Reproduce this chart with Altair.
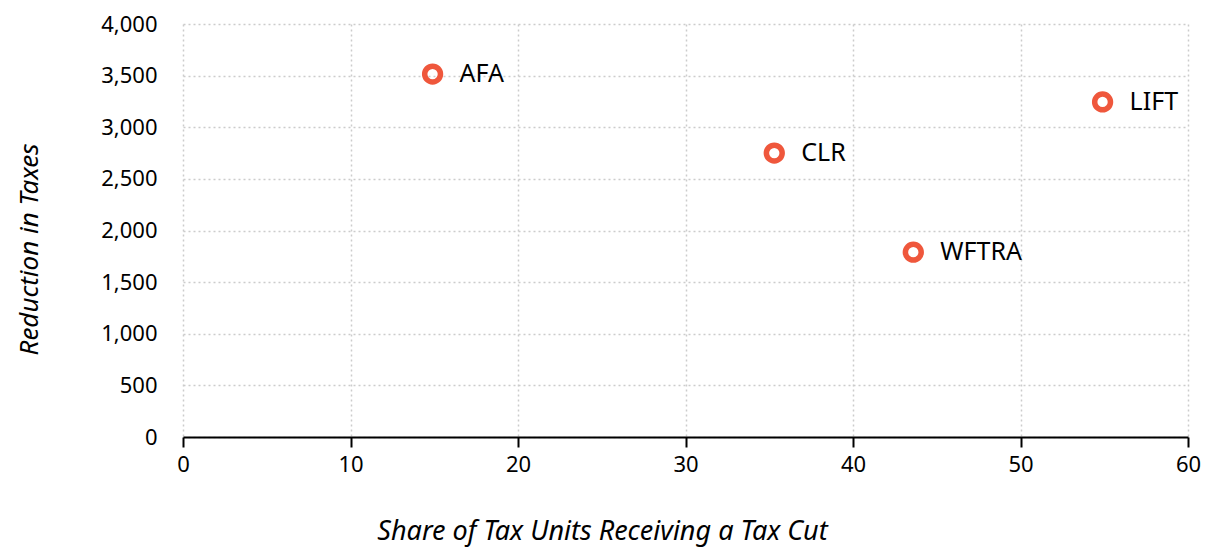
import altair as alt
import pandas as pd

plans = ["AFA", "CLR", "WFTRA", "LIFT"]
share = [14.9, 35.3, 43.6, 54.9]
reduction = [3515, 2750, 1790, 3245]

df = pd.DataFrame({"plan": plans, "share": share, "reduction": reduction})

FONT = "Noto Sans"
RED = "#EF573C"

base = alt.Chart(df).encode(
    x=alt.X("share:Q",
            scale=alt.Scale(domain=[0, 60], nice=False),
            axis=alt.Axis(values=[0, 10, 20, 30, 40, 50, 60],
                          title="Share of Tax Units Receiving a Tax Cut",
                          titleFontStyle="italic", titleFontWeight="normal",
                          titleFontSize=27, titleFont=FONT, titleColor="#000",
                          titlePadding=43, titleX=419,
                          labelFont=FONT, labelFontSize=22, labelColor="#000",
                          labelPadding=7, labelFlush=False,
                          domainColor="#000", domainWidth=2,
                          tickColor="#000", tickWidth=2, tickSize=10,
                          grid=True, gridColor="#cccccc", gridDash=[2, 3], gridWidth=1.5)),
    y=alt.Y("reduction:Q",
            scale=alt.Scale(domain=[0, 4000], nice=False),
            axis=alt.Axis(values=list(range(0, 4001, 500)), format=",.0f",
                          title="Reduction in Taxes",
                          titleFontStyle="italic", titleFontWeight="normal",
                          titleFontSize=26, titleFont=FONT, titleColor="#000",
                          titlePadding=58, titleY=225,
                          labelFont=FONT, labelFontSize=22, labelColor="#000",
                          labelPadding=26, labelFlush=False,
                          domain=False, ticks=False,
                          grid=True, gridColor="#cccccc", gridDash=[2, 3], gridWidth=1.5)),
)

points = base.mark_point(shape="circle", size=250, strokeWidth=5.5, color=RED, filled=False, opacity=1)
labels = base.mark_text(align="left", baseline="middle", dx=27, fontSize=25, font=FONT, color="#000").encode(text="plan:N")

chart = (points + labels).properties(
    width=1005, height=413,
    autosize=alt.AutoSizeParams(type="none"),
    padding={"left": 175, "top": 16, "right": 13, "bottom": 112},
).configure_view(stroke=None).configure_axis(gridCap="butt")

chart.save("out.html", embed_options={"renderer": "svg", "actions": False})
